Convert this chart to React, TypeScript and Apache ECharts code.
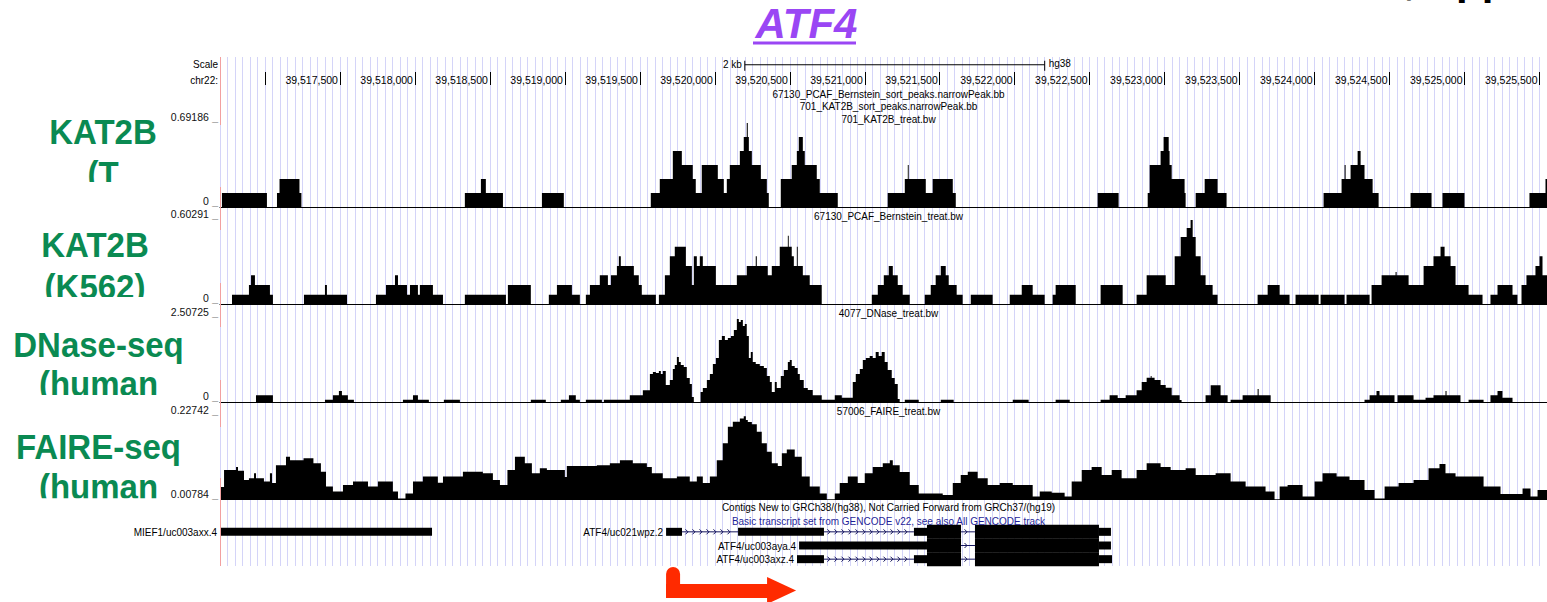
import React, { useEffect, useRef } from 'react';
import * as echarts from 'echarts';

// ---------------- data ----------------
const WINDOW_START = 39516700; // chr22 view start (bp)
const WINDOW_END = 39525550; // chr22 view end (bp)

const RULER_TICKS = [
  39517000, 39517500, 39518000, 39518500, 39519000, 39519500, 39520000, 39520500, 39521000,
  39521500, 39522000, 39522500, 39523000, 39523500, 39524000, 39524500, 39525000, 39525500,
];
const RULER_LABELED = RULER_TICKS.slice(1);
const SCALE_BAR_BP = [39520200, 39522200]; // 2 kb

const TRACK_FILES = ['701_KAT2B_treat.bw', '67130_PCAF_Bernstein_treat.bw', '4077_DNase_treat.bw', '57006_FAIRE_treat.bw'];
const TRACK_RANGES = [
  [0, 0.69186],
  [0, 0.60291],
  [0, 2.50725],
  [0.00784, 0.22742],
];
const SIDE_LABELS = [
  ['KAT2B', '(T'],
  ['KAT2B', '(K562)'],
  ['DNase-seq', '(human'],
  ['FAIRE-seq', '(human'],
];

// signal segments: [start offset bp, end offset bp (from WINDOW_START), value]
const KAT2B_T_SIGNAL = [
  [13, 313, 0.115],
  [380, 397, 0.115], [397, 530, 0.231], [530, 543, 0.115],
  [1633, 1740, 0.115], [1740, 1773, 0.231], [1773, 1887, 0.115],
  [2147, 2293, 0.115],
  [2873, 2933, 0.115], [2933, 3020, 0.231], [3020, 3080, 0.461], [3080, 3153, 0.346], [3153, 3173, 0.231],
  [3173, 3213, 0.115], [3213, 3320, 0.346], [3320, 3360, 0.231], [3360, 3380, 0.115], [3380, 3400, 0.231],
  [3400, 3467, 0.346], [3467, 3493, 0.461], [3493, 3513, 0.577], [3513, 3520, 0.692], [3520, 3527, 0.577],
  [3527, 3547, 0.461], [3547, 3607, 0.346], [3607, 3647, 0.231], [3647, 3660, 0.115],
  [3740, 3813, 0.231], [3813, 3847, 0.346], [3847, 3860, 0.461], [3860, 3887, 0.577], [3887, 3900, 0.461],
  [3900, 3980, 0.346], [3980, 4000, 0.231], [4000, 4120, 0.115],
  [4453, 4567, 0.115], [4567, 4587, 0.231], [4587, 4593, 0.346], [4593, 4707, 0.231], [4707, 4753, 0.115],
  [4753, 4887, 0.231], [4887, 4907, 0.115],
  [5853, 5993, 0.115],
  [6187, 6200, 0.115], [6200, 6273, 0.346], [6273, 6293, 0.461], [6293, 6327, 0.577], [6327, 6333, 0.461],
  [6333, 6347, 0.346], [6347, 6433, 0.231], [6433, 6440, 0.115],
  [6507, 6567, 0.115], [6567, 6653, 0.231], [6653, 6713, 0.115],
  [7360, 7480, 0.115], [7480, 7500, 0.231], [7500, 7507, 0.346], [7507, 7540, 0.231], [7540, 7587, 0.346],
  [7587, 7607, 0.461], [7607, 7633, 0.346], [7633, 7687, 0.231], [7687, 7727, 0.115],
  [7940, 8080, 0.115],
  [8153, 8300, 0.115],
  [8733, 8840, 0.115], [8840, 8850, 0.231],
];

const KAT2B_K562_SIGNAL = [
  [80, 193, 0.067], [193, 207, 0.137], [207, 233, 0.206], [233, 333, 0.137], [333, 353, 0.067],
  [560, 700, 0.067], [700, 713, 0.137], [713, 847, 0.067],
  [1040, 1107, 0.067], [1107, 1167, 0.137], [1167, 1187, 0.206], [1187, 1247, 0.137], [1247, 1267, 0.067],
  [1267, 1320, 0.137], [1320, 1333, 0.067], [1333, 1420, 0.137], [1420, 1487, 0.067],
  [1633, 1907, 0.067],
  [1920, 2073, 0.137],
  [2193, 2247, 0.067], [2247, 2347, 0.137], [2347, 2400, 0.067],
  [2440, 2467, 0.067], [2467, 2533, 0.137], [2533, 2587, 0.206], [2587, 2607, 0.137], [2607, 2647, 0.206],
  [2647, 2660, 0.273], [2660, 2673, 0.342], [2673, 2760, 0.273], [2760, 2793, 0.206], [2793, 2813, 0.137],
  [2813, 2907, 0.067],
  [2927, 2967, 0.067], [2967, 3000, 0.206], [3000, 3033, 0.342], [3033, 3107, 0.411], [3107, 3147, 0.273],
  [3147, 3160, 0.137], [3160, 3180, 0.342], [3180, 3200, 0.273], [3200, 3220, 0.342], [3220, 3307, 0.273],
  [3307, 3447, 0.137], [3447, 3513, 0.206], [3513, 3573, 0.273], [3573, 3580, 0.342], [3580, 3653, 0.273],
  [3653, 3680, 0.206], [3680, 3733, 0.273], [3733, 3787, 0.411], [3787, 3793, 0.49], [3793, 3813, 0.411],
  [3813, 3827, 0.342], [3827, 3847, 0.273], [3847, 3853, 0.411], [3853, 3887, 0.273], [3887, 3933, 0.206],
  [3933, 4013, 0.137],
  [4347, 4387, 0.067], [4387, 4427, 0.137], [4427, 4460, 0.206], [4460, 4487, 0.273], [4487, 4520, 0.206],
  [4520, 4553, 0.137], [4553, 4600, 0.067],
  [4700, 4740, 0.067], [4740, 4773, 0.137], [4773, 4807, 0.206], [4807, 4840, 0.273], [4840, 4860, 0.206],
  [4860, 4913, 0.137], [4913, 4953, 0.067],
  [5007, 5153, 0.067],
  [5267, 5347, 0.067], [5347, 5420, 0.137], [5420, 5500, 0.067],
  [5553, 5573, 0.067], [5573, 5707, 0.137],
  [5873, 6020, 0.137],
  [6113, 6180, 0.067], [6180, 6307, 0.206], [6307, 6367, 0.137], [6367, 6407, 0.342], [6407, 6447, 0.481],
  [6447, 6473, 0.545], [6473, 6487, 0.603], [6487, 6507, 0.481], [6507, 6540, 0.342], [6540, 6573, 0.206],
  [6573, 6620, 0.137], [6620, 6653, 0.067],
  [6920, 6987, 0.067], [6987, 7067, 0.137], [7067, 7133, 0.067],
  [7173, 7327, 0.067],
  [7340, 7500, 0.067],
  [7513, 7667, 0.067],
  [7680, 7747, 0.137], [7747, 7840, 0.206], [7840, 7847, 0.23], [7847, 7927, 0.206], [7927, 8027, 0.137],
  [8027, 8093, 0.273], [8093, 8140, 0.342], [8140, 8167, 0.411], [8167, 8207, 0.342], [8207, 8240, 0.273],
  [8240, 8327, 0.137], [8327, 8420, 0.067],
  [8473, 8520, 0.067], [8520, 8620, 0.137], [8620, 8653, 0.067],
  [8680, 8713, 0.137], [8713, 8773, 0.206], [8773, 8800, 0.273], [8800, 8820, 0.342], [8820, 8850, 0.206],
];

const DNASE_SIGNAL = [
  [240, 353, 0.2],
  [700, 753, 0.07], [753, 793, 0.2], [793, 813, 0.33], [813, 853, 0.2], [853, 893, 0.07],
  [1220, 1287, 0.07], [1287, 1320, 0.2], [1320, 1393, 0.07],
  [1493, 1600, 0.07],
  [2073, 2173, 0.07],
  [2273, 2327, 0.07], [2327, 2373, 0.2], [2373, 2400, 0.07],
  [2440, 2547, 0.07],
  [2560, 2733, 0.07], [2733, 2820, 0.2], [2820, 2867, 0.35], [2867, 2887, 0.836], [2887, 2907, 0.896],
  [2907, 2927, 0.866], [2927, 2940, 0.925], [2940, 2953, 0.836], [2953, 2973, 0.925], [2973, 3000, 0.507],
  [3000, 3020, 0.657], [3020, 3033, 0.985], [3033, 3047, 1.104], [3047, 3060, 1.343], [3060, 3073, 1.194],
  [3073, 3093, 1.104], [3093, 3113, 1.045], [3113, 3133, 0.716], [3133, 3147, 0.537], [3147, 3160, 0.149],
  [3205, 3220, 0.3], [3220, 3247, 0.418], [3247, 3267, 0.657], [3267, 3287, 0.836], [3287, 3307, 1.134],
  [3307, 3327, 1.313], [3327, 3347, 1.851], [3347, 3367, 1.97], [3367, 3387, 1.851], [3387, 3407, 1.91],
  [3407, 3427, 1.97], [3427, 3447, 2.149], [3447, 3460, 2.478], [3460, 3473, 2.388], [3473, 3487, 2.448],
  [3487, 3500, 2.269], [3500, 3513, 2.328], [3513, 3527, 1.97], [3527, 3540, 1.313], [3540, 3553, 1.493],
  [3553, 3573, 1.194], [3573, 3600, 1.134], [3600, 3627, 1.075], [3627, 3647, 1.015], [3647, 3667, 0.776],
  [3667, 3680, 0.597], [3680, 3700, 0.3], [3700, 3713, 0.597], [3713, 3740, 0.418], [3740, 3760, 0.776],
  [3760, 3787, 0.955], [3787, 3800, 1.194], [3800, 3813, 1.254], [3813, 3833, 1.075], [3833, 3853, 1.015],
  [3853, 3867, 0.836], [3867, 3893, 0.657], [3893, 3920, 0.418], [3920, 3953, 0.358], [3953, 4013, 0.2],
  [4013, 4100, 0.07], [4100, 4147, 0.2], [4147, 4220, 0.13], [4220, 4240, 0.597], [4240, 4267, 0.836],
  [4267, 4287, 0.985], [4287, 4307, 1.254], [4307, 4333, 1.313], [4333, 4353, 1.373], [4353, 4373, 1.313],
  [4373, 4393, 1.493], [4393, 4413, 1.373], [4413, 4433, 1.493], [4433, 4453, 1.194], [4453, 4480, 0.955],
  [4480, 4500, 0.716], [4500, 4520, 0.537], [4520, 4533, 0.09],
  [4567, 4660, 0.07],
  [4807, 4893, 0.07],
  [5287, 5393, 0.07],
  [5573, 5667, 0.07],
  [5873, 5933, 0.07], [5933, 5987, 0.2], [5987, 6040, 0.12], [6040, 6113, 0.2], [6113, 6147, 0.349],
  [6147, 6180, 0.597], [6180, 6207, 0.725], [6207, 6213, 0.776], [6213, 6233, 0.725], [6233, 6273, 0.657],
  [6273, 6307, 0.507], [6307, 6347, 0.427], [6347, 6400, 0.2], [6400, 6413, 0.06],
  [6573, 6607, 0.2], [6607, 6673, 0.498], [6673, 6720, 0.2],
  [6740, 6820, 0.07], [6820, 6920, 0.2], [6920, 6927, 0.388], [6927, 7007, 0.2],
  [7633, 7667, 0.07], [7667, 7713, 0.2], [7713, 7733, 0.33], [7733, 7833, 0.2],
  [7853, 7960, 0.2], [7960, 8040, 0.07], [8040, 8093, 0.13], [8093, 8173, 0.2], [8173, 8180, 0.33], [8180, 8273, 0.2],
  [8327, 8427, 0.07],
  [8473, 8520, 0.2], [8520, 8553, 0.33], [8553, 8620, 0.13],
];

const FAIRE_SIGNAL = [
  [0, 27, 0.042], [27, 107, 0.086], [107, 120, 0.094], [120, 160, 0.084], [160, 193, 0.06], [193, 227, 0.065],
  [227, 240, 0.078], [240, 293, 0.065], [293, 333, 0.056], [333, 347, 0.078], [347, 373, 0.052], [373, 440, 0.099],
  [440, 467, 0.121], [467, 557, 0.112], [557, 623, 0.117], [623, 673, 0.104], [673, 707, 0.082], [707, 753, 0.043],
  [753, 820, 0.03], [820, 887, 0.047], [887, 987, 0.056], [987, 1053, 0.043], [1053, 1153, 0.056], [1153, 1187, 0.03],
  [1187, 1237, 0.012], [1237, 1287, 0.025], [1287, 1353, 0.056], [1353, 1453, 0.069], [1453, 1487, 0.053],
  [1487, 1620, 0.069], [1620, 1753, 0.082], [1753, 1820, 0.078], [1820, 1867, 0.06], [1867, 1917, 0.047],
  [1917, 1967, 0.086], [1967, 2033, 0.121], [2033, 2080, 0.104], [2080, 2133, 0.078], [2133, 2180, 0.091],
  [2180, 2300, 0.086], [2300, 2313, 0.068], [2313, 2513, 0.097], [2513, 2600, 0.099], [2600, 2667, 0.104],
  [2667, 2753, 0.112], [2753, 2847, 0.104], [2847, 2880, 0.094], [2880, 2953, 0.078], [2953, 3047, 0.065],
  [3047, 3133, 0.069], [3133, 3180, 0.056], [3180, 3220, 0.069], [3220, 3267, 0.052], [3267, 3313, 0.069],
  [3313, 3353, 0.112], [3353, 3387, 0.156], [3387, 3420, 0.1995], [3420, 3467, 0.2125], [3467, 3493, 0.221],
  [3493, 3507, 0.227], [3507, 3520, 0.217], [3520, 3547, 0.212], [3547, 3580, 0.206], [3580, 3613, 0.186],
  [3613, 3647, 0.156], [3647, 3680, 0.134], [3680, 3720, 0.104], [3720, 3747, 0.097], [3747, 3780, 0.13],
  [3780, 3833, 0.14], [3833, 3880, 0.121], [3880, 3933, 0.069], [3933, 4000, 0.043], [4000, 4047, 0.025],
  [4047, 4100, 0.0097], [4100, 4133, 0.025], [4133, 4187, 0.052], [4187, 4253, 0.069], [4253, 4300, 0.052],
  [4300, 4353, 0.078], [4353, 4420, 0.094], [4420, 4467, 0.104], [4467, 4487, 0.112], [4487, 4533, 0.099],
  [4533, 4600, 0.081], [4600, 4660, 0.047], [4660, 4820, 0.025], [4820, 4887, 0.021], [4887, 4940, 0.052],
  [4940, 4987, 0.073], [4987, 5053, 0.082], [5053, 5120, 0.065], [5120, 5200, 0.047], [5200, 5287, 0.052],
  [5287, 5420, 0.047], [5420, 5467, 0.017], [5467, 5547, 0.03], [5547, 5633, 0.027], [5633, 5680, 0.017],
  [5680, 5747, 0.056], [5747, 5813, 0.086], [5813, 5880, 0.094], [5880, 5947, 0.073], [5947, 6013, 0.086],
  [6013, 6113, 0.065], [6113, 6180, 0.086], [6180, 6273, 0.104], [6273, 6340, 0.094], [6340, 6440, 0.086],
  [6440, 6507, 0.091], [6507, 6640, 0.073], [6640, 6740, 0.078], [6740, 6840, 0.056], [6840, 6973, 0.043],
  [6973, 7033, 0.03], [7033, 7067, 0.0097], [7067, 7120, 0.043], [7120, 7220, 0.047], [7220, 7300, 0.017],
  [7300, 7353, 0.056], [7353, 7447, 0.078], [7447, 7533, 0.069], [7533, 7633, 0.06], [7633, 7700, 0.034],
  [7700, 7767, 0.012], [7767, 7860, 0.043], [7860, 7960, 0.052], [7960, 8060, 0.06], [8060, 8133, 0.091],
  [8133, 8173, 0.102], [8173, 8240, 0.078], [8240, 8427, 0.069], [8427, 8540, 0.043], [8540, 8687, 0.0235],
  [8687, 8740, 0.038], [8740, 8787, 0.017], [8787, 8850, 0.034],
];

const TRACK_SIGNALS = [KAT2B_T_SIGNAL, KAT2B_K562_SIGNAL, DNASE_SIGNAL, FAIRE_SIGNAL];

// gene models: [start bp, end bp, row, kind]  kind: 0 = UTR exon, 1 = coding exon, 2 = intron
const GENE_BLOCKS = [
  [39516700, 39518114, 0, 0],
  [39519675, 39519781, 0, 0], [39519781, 39520155, 0, 2], [39520155, 39520728, 0, 0], [39520728, 39521328, 0, 2],
  [39521328, 39521415, 0, 0], [39521415, 39521642, 0, 1], [39521642, 39521735, 0, 2], [39521735, 39522562, 0, 1],
  [39522562, 39522642, 0, 0],
  [39520562, 39521415, 1, 0], [39521415, 39521642, 1, 1], [39521642, 39521735, 1, 2], [39521735, 39522562, 1, 1],
  [39522562, 39522642, 1, 0],
  [39520548, 39520728, 2, 0], [39520728, 39521328, 2, 2], [39521328, 39521415, 2, 0], [39521415, 39521642, 2, 1],
  [39521642, 39521735, 2, 2], [39521735, 39522562, 2, 1], [39522562, 39522649, 2, 0],
];
const GENE_LABELS = [
  { name: 'MIEF1/uc003axx.4', start: 39516700, row: 0 },
  { name: 'ATF4/uc021wpz.2', start: 39519675, row: 0 },
  { name: 'ATF4/uc003aya.4', start: 39520562, row: 1 },
  { name: 'ATF4/uc003axz.4', start: 39520548, row: 2 },
];
const ATF4_TSS_BP = 39519675;

// ---------------- layout / style ----------------
const FONT = 'Liberation Sans, Arial, Helvetica, sans-serif';
const GREEN = '#0a8a52';
const PURPLE = '#9a46f4';
const GUIDE = '#d4d4f8';
const DATA_LEFT = 220;
const TRACK_TOPS = [123, 220, 318, 416];
const TRACK_H = 84;
const TITLE_X = 888.5;
const TITLE_YS = [215.5, 313, 410.5];

function fmtBp(v: number) {
  return Math.round(v).toLocaleString('en-US');
}

function stepData(segs: number[][], base: number) {
  const pts: number[][] = [];
  let cursor = WINDOW_START;
  for (const [s, e, v] of segs) {
    const S = WINDOW_START + s;
    const E = WINDOW_START + e;
    if (S > cursor) pts.push([cursor, base]);
    pts.push([S, v]);
    cursor = E;
  }
  if (cursor < WINDOW_END) pts.push([cursor, base]);
  pts.push([WINDOW_END, base]);
  return pts;
}

function smallText(text: string, x: number, y: number, align = 'center', color = '#000', z = 10) {
  return {
    type: 'text',
    x,
    y,
    z,
    scaleY: 1.12,
    silent: true,
    style: {
      text,
      fill: color,
      fontSize: 10,
      fontFamily: FONT,
      align,
      textAlign: align,
      verticalAlign: 'middle',
      textVerticalAlign: 'middle',
    },
  };
}

function buildOption() {
  const grids: any[] = [
    { left: DATA_LEFT, right: 0, top: 57, height: 509 }, // guide lines
    { left: DATA_LEFT, right: 0, top: 58, height: 27 }, // ruler header
    ...TRACK_TOPS.map((t) => ({ left: DATA_LEFT, right: 0, top: t, height: TRACK_H })),
    { left: DATA_LEFT, right: 0, top: 525, height: 41 }, // genes
  ].map((g) => ({ ...g, containLabel: false, outerBoundsMode: 'none', show: false }));

  const baseX = { type: 'value', min: WINDOW_START, max: WINDOW_END, axisLabel: { show: false }, axisTick: { show: false }, axisLine: { show: false }, splitLine: { show: false } };

  const xAxes: any[] = [
    { ...baseX, gridIndex: 0, interval: 50, splitLine: { show: true, lineStyle: { color: GUIDE, width: 1 } } },
    {
      ...baseX,
      gridIndex: 1,
      axisTick: { show: true, customValues: RULER_TICKS, inside: true, length: 13, lineStyle: { color: '#000', width: 1 } },
      axisLabel: {
        show: true,
        customValues: RULER_LABELED,
        inside: true,
        margin: 5,
        align: 'right',
        verticalAlign: 'middle',
        padding: [0, 2, 0, 0],
        color: '#000',
        fontSize: 10.5,
        fontFamily: FONT,
        formatter: (v: number) => fmtBp(v),
      },
    },
    ...TRACK_TOPS.map((_, i) => ({
      ...baseX,
      gridIndex: i + 2,
      axisLine: { show: i < 3, onZero: false, lineStyle: { color: '#000', width: 1.2 } },
    })),
    { ...baseX, gridIndex: 6 },
  ];

  const yAxes: any[] = [
    { type: 'value', gridIndex: 0, min: 0, max: 1, show: false },
    { type: 'value', gridIndex: 1, min: 0, max: 1, show: false },
    ...TRACK_RANGES.map(([mn, mx], i) => ({
      type: 'value',
      gridIndex: i + 2,
      min: mn,
      max: mx,
      axisLine: { show: false },
      axisTick: { show: false },
      splitLine: { show: false },
      axisLabel: {
        show: true,
        customValues: [mn, mx],
        margin: 2,
        verticalAlign: 'bottom',
        formatter: (v: number) => `{n|${v}} {u|_}`,
        rich: {
          n: { fontSize: 10.5, fontFamily: FONT, color: '#111' },
          u: { fontSize: 10.5, fontFamily: FONT, color: '#999' },
        },
      },
    })),
    { type: 'value', gridIndex: 6, min: 0, max: 3, inverse: true, show: false },
  ];

  const series: any[] = [];
  TRACK_SIGNALS.forEach((segs, i) => {
    series.push({
      type: 'line',
      xAxisIndex: i + 2,
      yAxisIndex: i + 2,
      data: stepData(segs, TRACK_RANGES[i][0]),
      step: 'end',
      symbol: 'none',
      showSymbol: false,
      silent: true,
      clip: true,
      lineStyle: { width: 0, color: '#000' },
      areaStyle: { color: '#000', opacity: 1, origin: 'start' },
      z: 3,
    });
  });

  // scale bar
  series.push({
    type: 'custom',
    xAxisIndex: 1,
    yAxisIndex: 1,
    silent: true,
    data: [[SCALE_BAR_BP[0], SCALE_BAR_BP[1]]],
    renderItem: (params: any, api: any) => {
      const p0 = api.coord([api.value(0), 0.75]);
      const p1 = api.coord([api.value(1), 0.75]);
      const y = p0[1];
      const st = { stroke: '#000', lineWidth: 1 };
      return {
        type: 'group',
        children: [
          { type: 'line', shape: { x1: p0[0], y1: y, x2: p1[0], y2: y }, style: st },
          { type: 'line', shape: { x1: p0[0], y1: y - 4, x2: p0[0], y2: y + 6 }, style: st },
          { type: 'line', shape: { x1: p1[0], y1: y - 4, x2: p1[0], y2: y + 6 }, style: st },
          { type: 'text', x: p0[0] - 3, y: y - 1, scaleY: 1.12, style: { text: '2 kb', fill: '#000', fontSize: 10, fontFamily: FONT, align: 'right', verticalAlign: 'middle' } },
          { type: 'text', x: p1[0] + 4, y: y - 2, scaleY: 1.12, style: { text: 'hg38', fill: '#000', fontSize: 10, fontFamily: FONT, align: 'left', verticalAlign: 'middle' } },
        ],
      };
    },
  });

  // gene blocks
  const INTRON = '#15155e';
  series.push({
    type: 'custom',
    xAxisIndex: 6,
    yAxisIndex: 6,
    silent: true,
    data: GENE_BLOCKS,
    renderItem: (params: any, api: any) => {
      const s = api.value(0);
      const e = api.value(1);
      const row = api.value(2);
      const kind = api.value(3);
      const p0 = api.coord([s, row + 0.5]);
      const p1 = api.coord([e, row + 0.5]);
      const y = p0[1];
      if (kind === 2) {
        const children: any[] = [
          { type: 'line', shape: { x1: p0[0], y1: y, x2: p1[0], y2: y }, style: { stroke: INTRON, lineWidth: 1 } },
        ];
        for (let x = p0[0] + 6; x < p1[0] - 2; x += 7) {
          children.push({
            type: 'polyline',
            shape: { points: [[x - 2.5, y - 2.5], [x, y], [x - 2.5, y + 2.5]] },
            style: { stroke: INTRON, fill: null, lineWidth: 1 },
          });
        }
        return { type: 'group', children };
      }
      const h = kind === 1 ? 14 : 8;
      return { type: 'rect', shape: { x: p0[0], y: y - h / 2, width: p1[0] - p0[0], height: h }, style: { fill: '#000' } };
    },
  });

  // gene labels
  series.push({
    type: 'custom',
    xAxisIndex: 6,
    yAxisIndex: 6,
    silent: true,
    data: GENE_LABELS.map((g) => [g.start, g.row]),
    renderItem: (params: any, api: any) => {
      const g = GENE_LABELS[params.dataIndex];
      const p = api.coord([api.value(0), api.value(1) + 0.5]);
      return {
        type: 'text',
        x: p[0] - 3,
        y: p[1],
        scaleY: 1.12,
        style: { text: g.name, fill: '#000', fontSize: 10, fontFamily: FONT, align: 'right', verticalAlign: 'middle' },
      };
    },
  });

  // TSS arrow
  series.push({
    type: 'custom',
    xAxisIndex: 6,
    yAxisIndex: 6,
    silent: true,
    data: [[ATF4_TSS_BP, 3]],
    renderItem: (params: any, api: any) => {
      const p = api.coord([api.value(0), api.value(1)]);
      const x0 = p[0];
      const y0 = p[1];
      const red = '#ff2a00';
      return {
        type: 'group',
        children: [
          { type: 'rect', shape: { x: x0, y: y0 + 1, width: 14, height: 31, r: [7, 7, 0, 0] }, style: { fill: red } },
          { type: 'rect', shape: { x: x0, y: y0 + 18, width: 102, height: 14 }, style: { fill: red } },
          { type: 'polygon', shape: { points: [[x0 + 101, y0 + 11], [x0 + 130, y0 + 24.5], [x0 + 101, y0 + 38]] }, style: { fill: red } },
        ],
      };
    },
  });

  // ---- graphic overlay ----
  const g: any[] = [];
  // title
  g.push({
    type: 'text', x: 806.5, y: 23.8, z: 10,
    style: { text: 'ATF4', fill: PURPLE, fontSize: 42, fontWeight: 'bold', fontStyle: 'italic', fontFamily: FONT, align: 'center', verticalAlign: 'middle' },
  });
  g.push({ type: 'rect', z: 10, shape: { x: 753, y: 41.5, width: 103, height: 3 }, style: { fill: PURPLE } });
  // cut-off caption at top right (only its descenders reach into the picture)
  g.push({
    type: 'text', x: 1404, y: -21, z: 10,
    style: { text: ', App', fill: '#000', fontSize: 42, fontWeight: 'bold', fontFamily: FONT, align: 'left', verticalAlign: 'middle' },
  });

  // header labels
  g.push(smallText('Scale', 218, 64, 'right'));
  g.push(smallText('chr22:', 218, 80, 'right'));
  g.push(smallText('67130_PCAF_Bernstein_sort_peaks.narrowPeak.bb', TITLE_X, 94));
  g.push(smallText('701_KAT2B_sort_peaks.narrowPeak.bb', TITLE_X, 106));
  g.push(smallText(TRACK_FILES[0], TITLE_X, 118.5));
  TRACK_FILES.slice(1).forEach((t, i) => g.push(smallText(t, TITLE_X, TITLE_YS[i])));
  g.push(smallText('Contigs New to GRCh38/(hg38), Not Carried Forward from GRCh37/(hg19)', TITLE_X, 507));
  g.push(smallText('Basic transcript set from GENCODE v22, see also All GENCODE track', TITLE_X, 520.5, 'center', '#1f1f99'));

  // red left border segments
  [[57, 125], [187, 230], [283, 327], [380, 427], [478, 566]].forEach(([a, b]) => {
    g.push({ type: 'line', z: 5, silent: true, shape: { x1: 220.5, y1: a, x2: 220.5, y2: b }, style: { stroke: '#f2a0a0', lineWidth: 1 } });
  });

  // side labels (green), clipped at the bottom of each label box
  const SIDE_POS = [
    { cx: 103, base: [143.3, 185.5], clip: 182 },
    { cx: 95, base: [256.7, 298.3], clip: 297 },
    { cx: 98.5, base: [356.7, 395.5], clip: 395 },
    { cx: 98.5, base: [458.3, 498.8], clip: 498.3 },
  ];
  SIDE_LABELS.forEach((lines, i) => {
    const pos = SIDE_POS[i];
    lines.forEach((t, j) => {
      g.push({
        type: 'text', x: pos.cx, y: pos.base[j] - 12.1, z: 10, scaleY: 1.06, silent: true,
        style: { text: t, fill: GREEN, fontSize: 33, fontWeight: 'bold', fontFamily: FONT, align: 'center', verticalAlign: 'middle' },
      });
    });
    g.push({ type: 'rect', z: 11, silent: true, shape: { x: 20, y: pos.clip, width: 148, height: 18 }, style: { fill: '#fff' } });
  });

  return {
    animation: false,
    backgroundColor: '#fff',
    textStyle: { fontFamily: FONT },
    grid: grids,
    xAxis: xAxes,
    yAxis: yAxes,
    series,
    graphic: { elements: g },
  };
}

export default function App() {
  const ref = useRef<HTMLDivElement>(null);
  useEffect(() => {
    if (!ref.current) return;
    const chart = echarts.init(ref.current, undefined, { renderer: 'svg' });
    chart.setOption(buildOption() as any);
    return () => chart.dispose();
  }, []);
  return (
    <div
      ref={ref}
      style={{ position: 'fixed', left: 0, top: 0, width: 1547, height: 602, background: '#fff' }}
    />
  );
}
